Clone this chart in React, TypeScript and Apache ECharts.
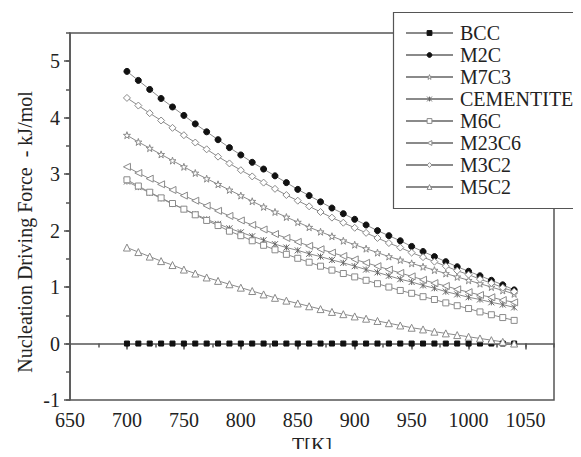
import React, { useEffect, useRef } from "react";
import * as echarts from "echarts";

const temps = [700, 710, 720, 730, 740, 750, 760, 770, 780, 790, 800, 810, 820, 830, 840, 850, 860, 870, 880, 890, 900, 910, 920, 930, 940, 950, 960, 970, 980, 990, 1000, 1010, 1020, 1030, 1040];

const bcc = [0, 0, 0, 0, 0, 0, 0, 0, 0, 0, 0, 0, 0, 0, 0, 0, 0, 0, 0, 0, 0, 0, 0, 0, 0, 0, 0, 0, 0, 0, 0, 0, 0, 0, 0];
const m2c = [4.82, 4.66, 4.5, 4.34, 4.19, 4.04, 3.89, 3.75, 3.61, 3.47, 3.34, 3.21, 3.09, 2.97, 2.85, 2.73, 2.62, 2.51, 2.4, 2.3, 2.2, 2.1, 2.0, 1.91, 1.82, 1.72, 1.63, 1.54, 1.45, 1.36, 1.28, 1.2, 1.12, 1.04, 0.95];
const m7c3 = [3.69, 3.57, 3.46, 3.35, 3.24, 3.13, 3.02, 2.92, 2.82, 2.72, 2.62, 2.52, 2.42, 2.33, 2.24, 2.15, 2.06, 1.98, 1.9, 1.82, 1.75, 1.68, 1.61, 1.54, 1.48, 1.42, 1.36, 1.3, 1.24, 1.18, 1.12, 1.06, 1.0, 0.94, 0.88];
const cementite = [2.87, 2.77, 2.67, 2.57, 2.47, 2.38, 2.29, 2.2, 2.12, 2.04, 1.97, 1.9, 1.83, 1.76, 1.7, 1.65, 1.59, 1.54, 1.48, 1.43, 1.37, 1.31, 1.26, 1.2, 1.14, 1.09, 1.03, 0.98, 0.92, 0.87, 0.82, 0.78, 0.73, 0.69, 0.64];
const m6c = [2.9, 2.79, 2.68, 2.58, 2.48, 2.38, 2.28, 2.18, 2.09, 1.99, 1.91, 1.82, 1.74, 1.66, 1.58, 1.51, 1.44, 1.37, 1.3, 1.24, 1.18, 1.12, 1.06, 1.0, 0.94, 0.89, 0.83, 0.78, 0.72, 0.67, 0.62, 0.56, 0.51, 0.46, 0.41];
const m23c6 = [3.13, 3.02, 2.92, 2.82, 2.72, 2.62, 2.53, 2.44, 2.35, 2.26, 2.18, 2.1, 2.02, 1.94, 1.87, 1.8, 1.73, 1.67, 1.61, 1.55, 1.49, 1.43, 1.37, 1.31, 1.25, 1.19, 1.13, 1.07, 1.02, 0.96, 0.91, 0.86, 0.82, 0.77, 0.73];
const m3c2 = [4.35, 4.215, 4.08, 3.95, 3.82, 3.69, 3.56, 3.44, 3.31, 3.19, 3.07, 2.96, 2.85, 2.74, 2.63, 2.53, 2.43, 2.33, 2.23, 2.14, 2.05, 1.96, 1.87, 1.78, 1.7, 1.61, 1.53, 1.45, 1.37, 1.29, 1.22, 1.14, 1.07, 0.99, 0.92];
const m5c2 = [1.7, 1.62, 1.54, 1.46, 1.39, 1.31, 1.24, 1.17, 1.11, 1.05, 0.99, 0.93, 0.87, 0.81, 0.76, 0.71, 0.66, 0.61, 0.56, 0.52, 0.48, 0.44, 0.4, 0.36, 0.32, 0.28, 0.25, 0.21, 0.18, 0.15, 0.12, 0.09, 0.06, 0.03, 0.0];

const seriesNames = ["BCC", "M2C", "M7C3", "CEMENTITE", "M6C", "M23C6", "M3C2", "M5C2"];
const seriesValues = [bcc, m2c, m7c3, cementite, m6c, m23c6, m3c2, m5c2];

const xTickLabels = ["650", "700", "750", "800", "850", "900", "950", "1000", "1050"];
const yTickLabels = ["-1", "0", "1", "2", "3", "4", "5"];

const FONT = "'Liberation Serif', 'Times New Roman', serif";
const AXIS = "#555";
const LINE = "#8a8a8a";
const MARK = "#8a8a8a";
const TEXT = "#222";

const STAR = "path://M5,0L6.2,3.6L10,3.6L7,5.9L8.1,9.5L5,7.3L1.9,9.5L3,5.9L0,3.6L3.8,3.6Z";
const ASTER = "path://M0,0L10,10M10,0L0,10M5,0L5,10";

const symbolStyles: any[] = [
  { symbol: "rect", size: 5, fill: "#111", stroke: "#111", rotate: 0 },
  { symbol: "circle", size: 6, fill: "#111", stroke: "#111", rotate: 0 },
  { symbol: STAR, size: 7, fill: "#fff", stroke: MARK, rotate: 0 },
  { symbol: ASTER, size: 6, fill: "none", stroke: "#666", rotate: 0 },
  { symbol: "rect", size: 6, fill: "#fff", stroke: MARK, rotate: 0 },
  { symbol: "triangle", size: 7, fill: "#fff", stroke: MARK, rotate: 90 },
  { symbol: "diamond", size: 7, fill: "#fff", stroke: MARK, rotate: 0 },
  { symbol: "triangle", size: 7, fill: "#fff", stroke: MARK, rotate: 0 },
];

export default function App() {
  const ref = useRef<HTMLDivElement>(null);
  useEffect(() => {
    if (!ref.current) return;
    const chart = echarts.init(ref.current, null, { renderer: "svg" });
    const series = seriesNames.map((name, i) => ({
      name,
      type: "line",
      xAxisIndex: 0,
      yAxisIndex: 0,
      data: temps.map((t, j) => [t, seriesValues[i][j]]),
      symbol: symbolStyles[i].symbol,
      symbolSize: symbolStyles[i].size,
      symbolRotate: symbolStyles[i].rotate,
      showAllSymbol: true,
      lineStyle: { color: LINE, width: 1 },
      itemStyle: {
        color: symbolStyles[i].fill,
        borderColor: symbolStyles[i].stroke,
        borderWidth: 1,
      },
      z: 2,
    }));
    chart.setOption({
      animation: false,
      backgroundColor: "#fff",
      textStyle: { fontFamily: FONT },
      grid: {
        left: 70,
        right: 27,
        top: 33,
        bottom: 57,
        containLabel: false,
        outerBoundsMode: "none",
        show: true,
        borderColor: AXIS,
        borderWidth: 1.5,
        backgroundColor: "transparent",
      },
      legend: {
        orient: "vertical",
        left: 393,
        top: 12,
        padding: [11, 10, 10, 12],
        itemGap: 2,
        itemWidth: 47,
        itemHeight: 6,
        borderWidth: 0,
        backgroundColor: "transparent",
        itemStyle: { borderWidth: 1 },
        data: seriesNames,
        z: 6,
        textStyle: { fontFamily: FONT, fontSize: 20, color: TEXT, padding: [0, 0, 0, 2] },
      },
      xAxis: [
        {
          type: "value",
          min: 650,
          max: 1075,
          interval: 50,
          name: "T[K]",
          nameLocation: "middle",
          nameGap: 35,
          nameTextStyle: { fontFamily: FONT, fontSize: 20, color: TEXT },
          axisLine: { lineStyle: { color: AXIS, width: 1.5 } },
          axisTick: { show: true, length: 6, lineStyle: { color: AXIS, width: 1.5 } },
          axisLabel: {
            fontFamily: FONT,
            fontSize: 20,
            color: TEXT,
            margin: 10,
            showMaxLabel: false,
            formatter: (v: number) => (xTickLabels.includes(String(v)) ? String(v) : ""),
          },
          splitLine: { show: false },
        },
        {
          type: "value",
          min: 650,
          max: 1075,
          interval: 25,
          position: "bottom",
          axisLine: { show: false },
          axisTick: { show: true, length: 4, lineStyle: { color: AXIS, width: 1.5 } },
          axisLabel: { show: false },
          splitLine: { show: false },
        },
      ],
      yAxis: [
        {
          type: "value",
          min: -1,
          max: 5.5,
          interval: 1,
          axisLine: { show: true, lineStyle: { color: AXIS, width: 1.5 } },
          axisTick: { show: true, length: 6, lineStyle: { color: AXIS, width: 1.5 } },
          axisLabel: {
            fontFamily: FONT,
            fontSize: 20,
            color: TEXT,
            margin: 10,
            showMaxLabel: false,
            formatter: (v: number) => (yTickLabels.includes(String(v)) ? String(v) : ""),
          },
          splitLine: { show: false },
        },
        {
          type: "value",
          min: -1,
          max: 5.5,
          interval: 0.5,
          position: "left",
          axisLine: { show: false },
          axisTick: { show: true, length: 4, lineStyle: { color: AXIS, width: 1.5 } },
          axisLabel: { show: false },
          splitLine: { show: false },
        },
      ],
      graphic: [
        {
          type: "rect",
          z: 5,
          shape: { x: 393.5, y: 12.5, width: 260, height: 196 },
          style: { fill: "#fff", stroke: AXIS, lineWidth: 1.2 },
        },
        {
          type: "text",
          x: 25,
          y: 232,
          rotation: Math.PI / 2,
          style: {
            text: "Nucleation Driving Force  - kJ/mol",
            fontFamily: FONT,
            fontSize: 20,
            fill: TEXT,
            align: "center",
            verticalAlign: "middle",
          },
        },
      ],
      series,
    });
    return () => chart.dispose();
  }, []);
  return <div ref={ref} style={{ width: 581, height: 457, margin: -8 }} />;
}
